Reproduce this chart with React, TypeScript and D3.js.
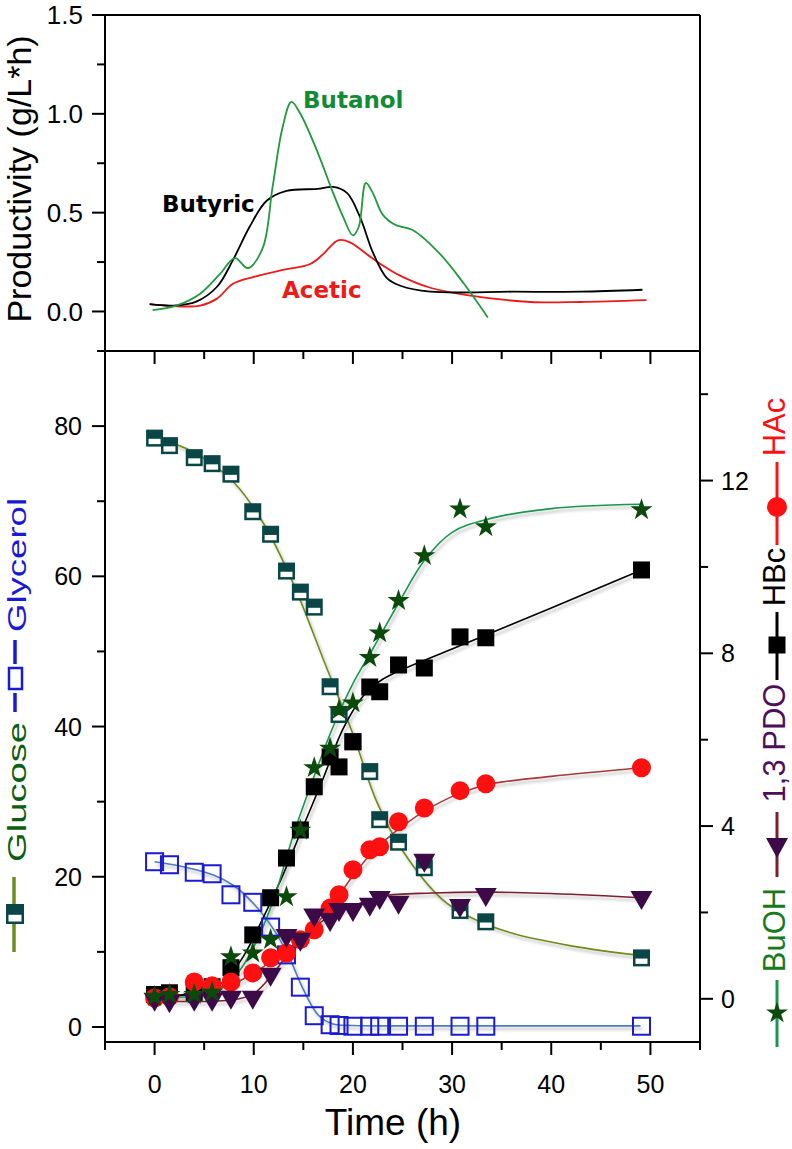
import React from 'react';
import * as d3 from 'd3';

// ---------- Top panel: productivity (g/L*h) vs time (h) ----------
const butanolTime = [-0.2, 2.2, 4.6, 6.6, 8.1, 9.4, 10.9, 11.9, 12.9, 13.8, 14.7, 16.4, 18.0, 19.0, 20.0, 20.6, 21.3, 22.0, 23.0, 24.2, 26.1, 28.8, 31.2, 33.6];
const butanolProd = [0.007, 0.03, 0.09, 0.19, 0.27, 0.22, 0.32, 0.63, 0.93, 1.06, 1.0, 0.81, 0.6, 0.48, 0.385, 0.43, 0.65, 0.6, 0.49, 0.44, 0.41, 0.29, 0.14, -0.03];
const butyricTime = [-0.5, 1.9, 4.2, 6.3, 7.9, 9.6, 11.3, 13.3, 16.4, 18.0, 19.4, 20.7, 22.0, 23.4, 24.8, 27.8, 36.2, 42.9, 49.2];
const butyricProd = [0.037, 0.03, 0.05, 0.125, 0.26, 0.43, 0.56, 0.61, 0.62, 0.63, 0.6, 0.48, 0.3, 0.17, 0.13, 0.1, 0.1, 0.1, 0.11];
const aceticTime = [-0.5, 1.9, 4.6, 6.3, 7.9, 10.0, 12.9, 15.7, 17.0, 18.5, 19.7, 21.4, 23.1, 24.8, 27.8, 31.5, 37.9, 42.9, 49.6];
const aceticProd = [0.037, 0.027, 0.03, 0.065, 0.14, 0.175, 0.21, 0.24, 0.29, 0.36, 0.35, 0.29, 0.23, 0.18, 0.12, 0.083, 0.048, 0.048, 0.057];

// ---------- Bottom panel: measured concentrations ----------
const sampleTime = [0, 1.5, 4.0, 5.8, 7.7, 9.9, 11.7, 13.3, 14.7, 16.1, 17.7, 18.6, 20.0, 21.7, 22.7, 24.6, 27.2, 30.8, 33.4, 49.1];
const glucose = [78.4, 77.4, 75.8, 75.0, 73.6, 68.6, 65.6, 60.7, 57.9, 55.9, 45.3, 41.6, 38.0, 34.0, 27.6, 24.6, 21.2, 15.5, 14.0, 9.2];
const glycerol = [22.0, 21.6, 20.6, 20.4, 17.6, 16.6, 13.3, 9.6, 5.3, 1.5, 0.3, 0.2, 0.1, 0.1, 0.1, 0.1, 0.1, 0.1, 0.1, 0.1];
const hbc = [0.1, 0.14, 0.15, 0.28, 0.72, 1.48, 2.34, 3.26, 3.91, 4.91, 5.6, 5.37, 5.95, 7.22, 7.11, 7.73, 7.66, 8.38, 8.36, 9.93];
const hac = [0.02, 0.05, 0.39, 0.3, 0.39, 0.6, 0.95, 1.06, 1.37, 1.6, 2.1, 2.41, 2.99, 3.45, 3.52, 4.1, 4.42, 4.82, 4.98, 5.35];
const pdo = [-0.07, -0.1, -0.07, -0.07, -0.02, -0.02, 0.51, 1.41, 1.32, 1.88, 1.78, 2.01, 2.01, 2.13, 2.29, 2.18, 3.15, 2.1, 2.36, 2.29];
const buoh = [0.05, 0.1, 0.1, 0.15, 0.97, 1.06, 1.37, 2.36, 3.9, 5.35, 5.8, 6.69, 6.85, 7.9, 8.47, 9.22, 10.26, 11.34, 10.93, 11.32];

// ---------- Bottom panel: fitted curves ----------
const glucoseFitT = [0, 4, 8, 11, 14, 17, 20, 22.4, 25, 29, 32, 36, 42, 49];
const glucoseFitV = [78.5, 76.5, 72.5, 67, 59, 49, 39, 30, 23.5, 17, 14.5, 12.5, 10.8, 9.5];
const glycerolFitT = [0, 3, 6, 8, 10, 12, 13.5, 15, 16.5, 18, 20, 30, 49];
const glycerolFitV = [22, 21.3, 20.2, 18.8, 16.4, 13, 9.5, 5.0, 1.6, 0.4, 0.2, 0.15, 0.15];
const hbcFitT = [0, 4, 7, 9, 11, 13, 15, 17, 19, 21, 23, 30, 40, 49.1];
const hbcFitV = [0.1, 0.12, 0.4, 1.0, 1.9, 2.9, 4.0, 5.1, 6.25, 7.0, 7.4, 8.1, 9.05, 9.93];
const buohFitT = [0, 5, 8, 10, 12, 14, 16, 18, 20, 22, 24.7, 27.2, 30, 33.5, 40, 49];
const buohFitV = [0.05, 0.1, 0.5, 1.2, 2.3, 3.8, 5.1, 6.3, 7.3, 8.1, 9.2, 10.15, 10.8, 11.1, 11.35, 11.45];
const hacFitT = [0, 5, 8, 10, 12, 14, 16, 18, 20, 22, 25, 28, 31, 34, 40, 49];
const hacFitV = [0.02, 0.15, 0.35, 0.6, 0.9, 1.25, 1.65, 2.2, 2.85, 3.4, 4.0, 4.45, 4.78, 4.98, 5.15, 5.35];
const pdoFitT = [0, 8, 10, 12, 14, 16, 18, 20, 23, 28, 34, 42, 49];
const pdoFitV = [-0.05, -0.02, 0.12, 0.6, 1.2, 1.65, 1.95, 2.15, 2.38, 2.45, 2.47, 2.42, 2.34];

// ---------- Axis ticks ----------
const xTicks = [-5, 0, 5, 10, 15, 20, 25, 30, 35, 40, 45, 50, 55];
const xLabels = [0, 10, 20, 30, 40, 50];
const topTicks = [0, 0.25, 0.5, 0.75, 1.0, 1.25, 1.5];
const topLabels = ['0.0', '0.5', '1.0', '1.5'];
const leftTicks = [0, 10, 20, 30, 40, 50, 60, 70, 80, 90];
const leftLabels = [0, 20, 40, 60, 80];
const rightTicks = [0, 2, 4, 6, 8, 10, 12, 14];
const rightLabels = [0, 4, 8, 12];

const FONT = "'Liberation Sans', Arial, sans-serif";
const BFONT = "'DejaVu Sans', Verdana, sans-serif";

const X0 = 105, X1 = 700, TY = 15, MY = 351, BY = 1042;

const C = {
  glucoseMark: '#0a4646', glucoseLine: '#6f8b1f', glucoseText: '#0b5e12',
  glyBlue: '#1a1ad2', glyLine: '#4d7cb8',
  hac: '#ff1010', hacLine: '#a43a3a',
  pdo: '#3d0a48', pdoLine: '#7a2030', pdoText: '#4d1058',
  star: '#0b4a0b', buohLine: '#1a9650', buohText: '#177a1a',
  butanol: '#1f9a3f', butanolText: '#138a36', acetic: '#ee1a1a',
};

const zip = (a: number[], b: number[]) => a.map((t, i) => [t, b[i]] as [number, number]);

export default function App() {
  const x = d3.scaleLinear().domain([-5, 55]).range([X0, X1]);
  const yTop = d3.scaleLinear().domain([-0.2, 1.5]).range([MY, TY]);
  const yL = d3.scaleLinear().domain([-2, 90]).range([BY, MY]);
  const yR = d3.scaleLinear().domain([-1, 15]).range([BY, MY]);

  const lineTop = d3.line<[number, number]>().x(d => x(d[0])).y(d => yTop(d[1])).curve(d3.curveCatmullRom.alpha(0.5));
  const lineL = d3.line<[number, number]>().x(d => x(d[0])).y(d => yL(d[1])).curve(d3.curveCatmullRom.alpha(0.5));
  const lineR = d3.line<[number, number]>().x(d => x(d[0])).y(d => yR(d[1])).curve(d3.curveCatmullRom.alpha(0.5));

  const starPath = d3.symbol(d3.symbolStar, 150)()!;
  const tri = 'M-11,-9L11,-9L0,10Z';
  const S = 17;

  const glucoseMarker = (cx: number, cy: number, key: any, w = S, h = S) => (
    <g key={key}>
      <rect x={cx - w / 2} y={cy - h / 2} width={w} height={h} fill={C.glucoseMark} />
      <rect x={cx - w / 2 + 2.5} y={cy + h * 0.04} width={w - 5} height={h / 2 - 2.5 - h * 0.04} fill="#fff" />
    </g>
  );

  return (
    <svg width={792} height={1149} style={{ position: 'absolute', left: 0, top: 0, background: '#fff' }} fontFamily={FONT}>
      <defs>
        <filter id="sh" x="-5%" y="-10%" width="115%" height="130%">
          <feDropShadow dx="2" dy="3" stdDeviation="1.6" floodColor="#000" floodOpacity="0.28" />
        </filter>
      </defs>

      {/* ===== Top panel ===== */}
      <path d={lineTop(zip(aceticTime, aceticProd))!} fill="none" stroke={C.acetic} strokeWidth={1.8} />
      <path d={lineTop(zip(butyricTime, butyricProd))!} fill="none" stroke="#000" strokeWidth={1.8} />
      <path d={lineTop(zip(butanolTime, butanolProd))!} fill="none" stroke={C.butanol} strokeWidth={1.8} />
      <text x={303} y={108} fontFamily={BFONT} fontWeight="bold" fontSize={23} fill={C.butanolText}>Butanol</text>
      <text x={162} y={212} fontFamily={BFONT} fontWeight="bold" fontSize={23} fill="#000">Butyric</text>
      <text x={282} y={298} fontFamily={BFONT} fontWeight="bold" fontSize={23} fill={C.acetic}>Acetic</text>

      {/* frame */}
      <line x1={X0} x2={X1} y1={TY} y2={TY} stroke="#000" strokeWidth={2} />
      <line x1={X1} x2={X1} y1={TY} y2={BY} stroke="#000" strokeWidth={2} />
      <line x1={X0} x2={X0} y1={TY} y2={BY + 8} stroke="#000" strokeWidth={2} />
      <line x1={X0} x2={X1} y1={MY} y2={MY} stroke="#000" strokeWidth={2} />
      <line x1={X0} x2={X1} y1={BY} y2={BY} stroke="#000" strokeWidth={2} />

      {topTicks.map((t, i) => (
        <line key={'tt' + i} x1={X0} x2={X0 - (i % 2 === 0 ? 13 : 8)} y1={yTop(t)} y2={yTop(t)} stroke="#000" strokeWidth={2} />
      ))}
      {topLabels.map(l => (
        <text key={'tl' + l} x={83} y={yTop(+l)} dy="0.36em" textAnchor="end" fontSize={26}>{l}</text>
      ))}
      <text transform={`translate(31,179) rotate(-90)`} textAnchor="middle" fontSize={34}>Productivity (g/L*h)</text>

      {/* ===== Bottom panel axes ===== */}
      {xTicks.map(t => {
        const major = t % 10 === 0;
        return (
          <g key={'xt' + t}>
            <line x1={x(t)} x2={x(t)} y1={BY} y2={BY + (major ? 13 : 8)} stroke="#000" strokeWidth={2} />
            <line x1={x(t)} x2={x(t)} y1={MY} y2={MY + (major ? 13 : 8)} stroke="#000" strokeWidth={2} />
          </g>
        );
      })}
      {xLabels.map(t => (
        <text key={'xl' + t} x={x(t)} y={1093} textAnchor="middle" fontSize={25}>{t}</text>
      ))}
      <text x={393} y={1135} textAnchor="middle" fontSize={37}>Time (h)</text>

      {leftTicks.map(t => (
        <line key={'lt' + t} x1={X0} x2={X0 - (t % 20 === 0 ? 13 : 8)} y1={yL(t)} y2={yL(t)} stroke="#000" strokeWidth={2} />
      ))}
      {leftLabels.map(t => (
        <text key={'ll' + t} x={82} y={yL(t)} dy="0.36em" textAnchor="end" fontSize={25}>{t}</text>
      ))}
      {rightTicks.map(t => (
        <line key={'rt' + t} x1={X1} x2={X1 + (t % 4 === 0 ? 13 : 8)} y1={yR(t)} y2={yR(t)} stroke="#000" strokeWidth={2} />
      ))}
      {rightLabels.map(t => (
        <text key={'rl' + t} x={721} y={yR(t)} dy="0.36em" textAnchor="start" fontSize={25}>{t}</text>
      ))}

      {/* ===== Bottom panel fitted curves ===== */}
      <g filter="url(#sh)" fill="none" strokeWidth={1.6}>
        <path d={lineL(zip(glycerolFitT, glycerolFitV))!} stroke={C.glyLine} />
        <path d={lineL(zip(glucoseFitT, glucoseFitV))!} stroke={C.glucoseLine} />
        <path d={lineR(zip(pdoFitT, pdoFitV))!} stroke={C.pdoLine} />
        <path d={lineR(zip(hacFitT, hacFitV))!} stroke={C.hacLine} />
        <path d={lineR(zip(hbcFitT, hbcFitV))!} stroke="#000" />
        <path d={lineR(zip(buohFitT, buohFitV))!} stroke={C.buohLine} />
      </g>

      {/* ===== markers ===== */}
      {sampleTime.map((t, i) => (
        <rect key={'gy' + i} x={x(t) - S / 2} y={yL(glycerol[i]) - S / 2} width={S} height={S} fill="none" stroke={C.glyBlue} strokeWidth={2} />
      ))}
      {sampleTime.map((t, i) => glucoseMarker(x(t), yL(glucose[i]), 'gl' + i))}
      {sampleTime.map((t, i) => (
        <rect key={'hb' + i} x={x(t) - S / 2} y={yR(hbc[i]) - S / 2} width={S} height={S} fill="#000" />
      ))}
      {sampleTime.map((t, i) => (
        <circle key={'ha' + i} cx={x(t)} cy={yR(hac[i])} r={9.5} fill={C.hac} />
      ))}
      {sampleTime.map((t, i) => (
        <path key={'pd' + i} d={tri} transform={`translate(${x(t)},${yR(pdo[i])})`} fill={C.pdo} />
      ))}
      {sampleTime.map((t, i) => (
        <path key={'bu' + i} d={starPath} transform={`translate(${x(t)},${yR(buoh[i])})`} fill={C.star} />
      ))}

      {/* ===== Left legend (rotated) ===== */}
      <line x1={14} x2={14} y1={877} y2={952} stroke={C.glucoseLine} strokeWidth={3.5} />
      {glucoseMarker(15, 914, 'lg', 18, 20)}
      <text transform="translate(26,792) rotate(-90)" textAnchor="middle" fontSize={25} fill={C.glucoseText}
        textLength={140} lengthAdjust="spacingAndGlyphs">Glucose</text>
      <line x1={15} x2={15} y1={640} y2={664} stroke={C.glyBlue} strokeWidth={3.5} />
      <line x1={15} x2={15} y1={693} y2={712} stroke={C.glyBlue} strokeWidth={3.5} />
      <rect x={9} y={668} width={13} height={21} fill="none" stroke={C.glyBlue} strokeWidth={2.5} />
      <text transform="translate(26,565) rotate(-90)" textAnchor="middle" fontSize={25} fill={C.glyBlue}
        textLength={134} lengthAdjust="spacingAndGlyphs">Glycerol</text>

      {/* ===== Right legend (rotated) ===== */}
      <line x1={777} x2={777} y1={980} y2={1047} stroke={C.buohLine} strokeWidth={3} />
      <path d={starPath} transform="translate(777,1013)" fill={C.star} />
      <text transform="translate(785,930) rotate(-90)" textAnchor="middle" fontSize={31} fill={C.buohText}>BuOH</text>
      <line x1={777} x2={777} y1={812} y2={877} stroke={C.pdoLine} strokeWidth={3} />
      <path d="M-11,-10L11,-10L0,10Z" transform="translate(777,848)" fill={C.pdo} />
      <text transform="translate(785,743) rotate(-90)" textAnchor="middle" fontSize={31} fill={C.pdoText}>1,3 PDO</text>
      <line x1={777} x2={777} y1={612} y2={680} stroke="#000" strokeWidth={3} />
      <rect x={777 - 8.5} y={645 - 8.5} width={17} height={17} fill="#000" />
      <text transform="translate(785,577) rotate(-90)" textAnchor="middle" fontSize={31} fill="#000">HBc</text>
      <line x1={777} x2={777} y1={462} y2={545} stroke={C.hac} strokeWidth={3} />
      <circle cx={777} cy={507} r={10} fill={C.hac} />
      <text transform="translate(785,427) rotate(-90)" textAnchor="middle" fontSize={31} fill={C.hac}>HAc</text>
    </svg>
  );
}
